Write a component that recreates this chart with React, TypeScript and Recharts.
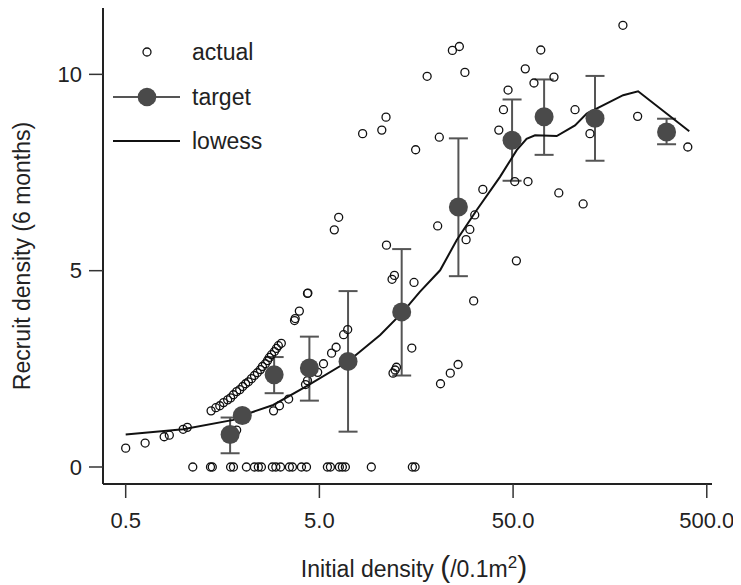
import { ComposedChart, Scatter, Line, XAxis, YAxis, ErrorBar, Legend, Label } from 'recharts';

const FONT = "'Liberation Sans', Arial, Helvetica, sans-serif";
const INK = '#222';

// actual observations (initial density, recruit density)
const actualX = [
  1.11, 1.37, 1.40, 1.74, 1.80, 2.10, 2.31, 2.42, 2.51, 2.86, 2.98, 3.15, 3.50, 3.63, 4.04, 4.29, 5.50, 5.70, 6.34, 6.57, 6.81, 9.27, 15.1, 15.6,
  0.5, 0.63, 0.79, 0.84, 0.99, 1.04, 1.87,
  1.38, 1.46, 1.53, 1.60, 1.68, 1.74, 1.80, 1.87, 1.94, 2.01, 2.08, 2.15, 2.23, 2.31, 2.39, 2.48, 2.54, 2.63, 2.70, 2.76, 2.83, 2.93, 3.00, 3.07, 3.18,
  2.90, 3.11, 3.47, 4.24, 4.34, 4.90, 5.25, 5.78, 6.10, 6.67, 7.0, 3.72, 3.75, 3.94, 4.34, 4.36, 5.97, 6.29, 11.1, 11.86, 12.2, 15.4, 15.0, 12.0, 12.3, 12.5,
  8.36, 10.5, 11.04, 15.7,
  184.5, 24.3, 26.4, 69.5, 18.0, 28.2, 57.8, 64.1, 81.3, 47.1, 44.6, 42.2, 104.4, 124.7, 219.8, 399, 20.8, 51.0, 59.7, 86.1, 115, 34.9, 31.7, 29.9, 28.6, 20.4, 52.0, 31.3, 26.0, 23.7, 21.1,
];
const actualY = [
  0, 0, 0, 0, 0, 0, 0, 0, 0, 0, 0, 0, 0, 0, 0, 0, 0, 0, 0, 0, 0, 0, 0, 0,
  0.48, 0.61, 0.77, 0.81, 0.96, 1.01, 0.94,
  1.43, 1.51, 1.56, 1.64, 1.71, 1.76, 1.84, 1.92, 1.97, 2.05, 2.12, 2.17, 2.25, 2.33, 2.40, 2.48, 2.56, 2.63, 2.71, 2.79, 2.86, 2.94, 3.02, 3.09, 3.15,
  1.43, 1.56, 1.73, 2.10, 2.20, 2.41, 2.63, 2.90, 3.05, 3.37, 3.50, 3.73, 3.78, 3.97, 4.42, 4.43, 6.04, 6.36, 5.65, 4.78, 4.88, 4.70, 3.03, 2.39, 2.47, 2.54,
  8.49, 8.58, 8.91, 8.08,
  11.25, 10.61, 10.71, 10.62, 9.95, 10.05, 10.14, 9.78, 9.93, 9.60, 9.10, 8.58, 9.10, 8.49, 8.93, 8.15, 8.40, 7.27, 7.27, 6.98, 6.70, 7.07, 6.42, 6.05, 5.79, 6.14, 5.25, 4.23, 2.61, 2.39, 2.12,
];

// target means with lower / upper bounds
const targetX = [1.73, 2.0, 2.92, 4.44, 7.03, 13.3, 26.1, 49.4, 72.3, 132.4, 310];
const targetY = [0.83, 1.31, 2.35, 2.52, 2.69, 3.95, 6.62, 8.32, 8.92, 8.88, 8.53];
const targetLow = [0.35, 1.31, 1.88, 1.69, 0.90, 2.33, 4.86, 7.29, 7.95, 7.80, 8.22];
const targetHigh = [1.26, 1.31, 2.80, 3.32, 4.48, 5.55, 8.37, 9.36, 9.87, 9.96, 8.87];

// lowess smooth
const lowessX = [0.5, 0.99, 1.8, 2.0, 2.89, 4.3, 7.08, 10.3, 13.5, 16.5, 21.0, 25.6, 32.4, 42.8, 52.2, 58.7, 64.9, 84.0, 104.4, 120, 185, 221, 406];
const lowessY = [0.83, 0.96, 1.2, 1.31, 1.58, 2.06, 2.7, 3.36, 3.95, 4.46, 5.01, 5.78, 6.54, 7.39, 8.07, 8.36, 8.45, 8.43, 8.7, 9.0, 9.47, 9.57, 8.55];

const xTicks = [0.5, 5, 50, 500];
const yTicks = [0, 5, 10];

const actualData = actualX.map((x, i) => ({ x, y: actualY[i] }));
const targetData = targetX.map((x, i) => ({
  x,
  y: targetY[i],
  err: targetHigh[i] > targetLow[i] ? [targetY[i] - targetLow[i], targetHigh[i] - targetY[i]] : null,
}));
const lowessData = lowessX.map((x, i) => ({ x, y: lowessY[i] }));

const OpenDot = (props: any) => (
  <circle cx={props.cx} cy={props.cy} r={4} fill="none" stroke="#111" strokeWidth={1.3} />
);
const TargetDot = (props: any) => <circle cx={props.cx} cy={props.cy} r={9.5} fill="#4a4a4a" />;

const LegendBox = () => (
  <svg width={300} height={160} style={{ display: 'block' }}>
    <g fontFamily={FONT} fontSize={23} fill={INK}>
      <circle cx={139} cy={44} r={4} fill="none" stroke="#111" strokeWidth={1.3} />
      <text x={184} y={44} dominantBaseline="central">actual</text>
      <line x1={105} x2={172} y1={89} y2={89} stroke="#555" strokeWidth={2} />
      <circle cx={139} cy={89} r={9.3} fill="#4a4a4a" />
      <text x={184} y={89} dominantBaseline="central">target</text>
      <line x1={105} x2={172} y1={133} y2={133} stroke="#111" strokeWidth={2} />
      <text x={184} y={133} dominantBaseline="central">lowess</text>
    </g>
  </svg>
);

const YTitle = () => (
  <text
    x={14}
    y={248}
    transform="rotate(-90 14 248)"
    textAnchor="middle"
    dominantBaseline="central"
    fontFamily={FONT}
    fontSize={23}
    fill={INK}
  >
    Recruit density (6 months)
  </text>
);

const XTitle = () => (
  <text x={406} y={569} textAnchor="middle" fontFamily={FONT} fontSize={23} fill={INK}>
    Initial density <tspan fontSize={30}>(</tspan>/0.1m
    <tspan dy={-9} fontSize={17}>2</tspan>
    <tspan dy={9} fontSize={30}>)</tspan>
  </text>
);

export default function App() {
  return (
    <ComposedChart width={733} height={577} margin={{ top: 0, right: 29, bottom: 0, left: 0 }}>
      <XAxis
        type="number"
        dataKey="x"
        scale="log"
        domain={[0.3818, 532]}
        allowDataOverflow
        ticks={xTicks}
        tickFormatter={(v: number) => v.toFixed(1)}
        height={101}
        tickSize={14}
        tickMargin={14}
        axisLine={{ stroke: INK, strokeWidth: 2 }}
        tickLine={{ stroke: '#333', strokeWidth: 1.5 }}
        tick={{ fill: INK, fontSize: 22, fontFamily: FONT }}
        label={<Label content={XTitle} />}
      />
      <YAxis
        type="number"
        dataKey="y"
        domain={[-0.433, 11.69]}
        allowDataOverflow
        ticks={yTicks}
        width={95}
        tickSize={14}
        tickMargin={7}
        axisLine={{ stroke: INK, strokeWidth: 2 }}
        tickLine={{ stroke: '#333', strokeWidth: 1.5 }}
        tick={{ fill: INK, fontSize: 22, fontFamily: FONT }}
        label={<Label content={YTitle} />}
      />
      <Legend
        layout="vertical"
        align="center"
        verticalAlign="middle"
        wrapperStyle={{ top: 0, left: 0, width: 300, height: 160 }}
        content={LegendBox}
      />
      <Scatter name="actual" data={actualData} dataKey="y" shape={OpenDot} isAnimationActive={false} />
      <Scatter name="target" data={targetData} dataKey="y" shape={TargetDot} isAnimationActive={false}>
        <ErrorBar dataKey="err" direction="y" width={9.5} stroke="#555" strokeWidth={2} />
      </Scatter>
      <Line
        name="lowess"
        data={lowessData}
        dataKey="y"
        type="linear"
        stroke="#111"
        strokeWidth={2}
        dot={false}
        activeDot={false}
        isAnimationActive={false}
      />
    </ComposedChart>
  );
}
